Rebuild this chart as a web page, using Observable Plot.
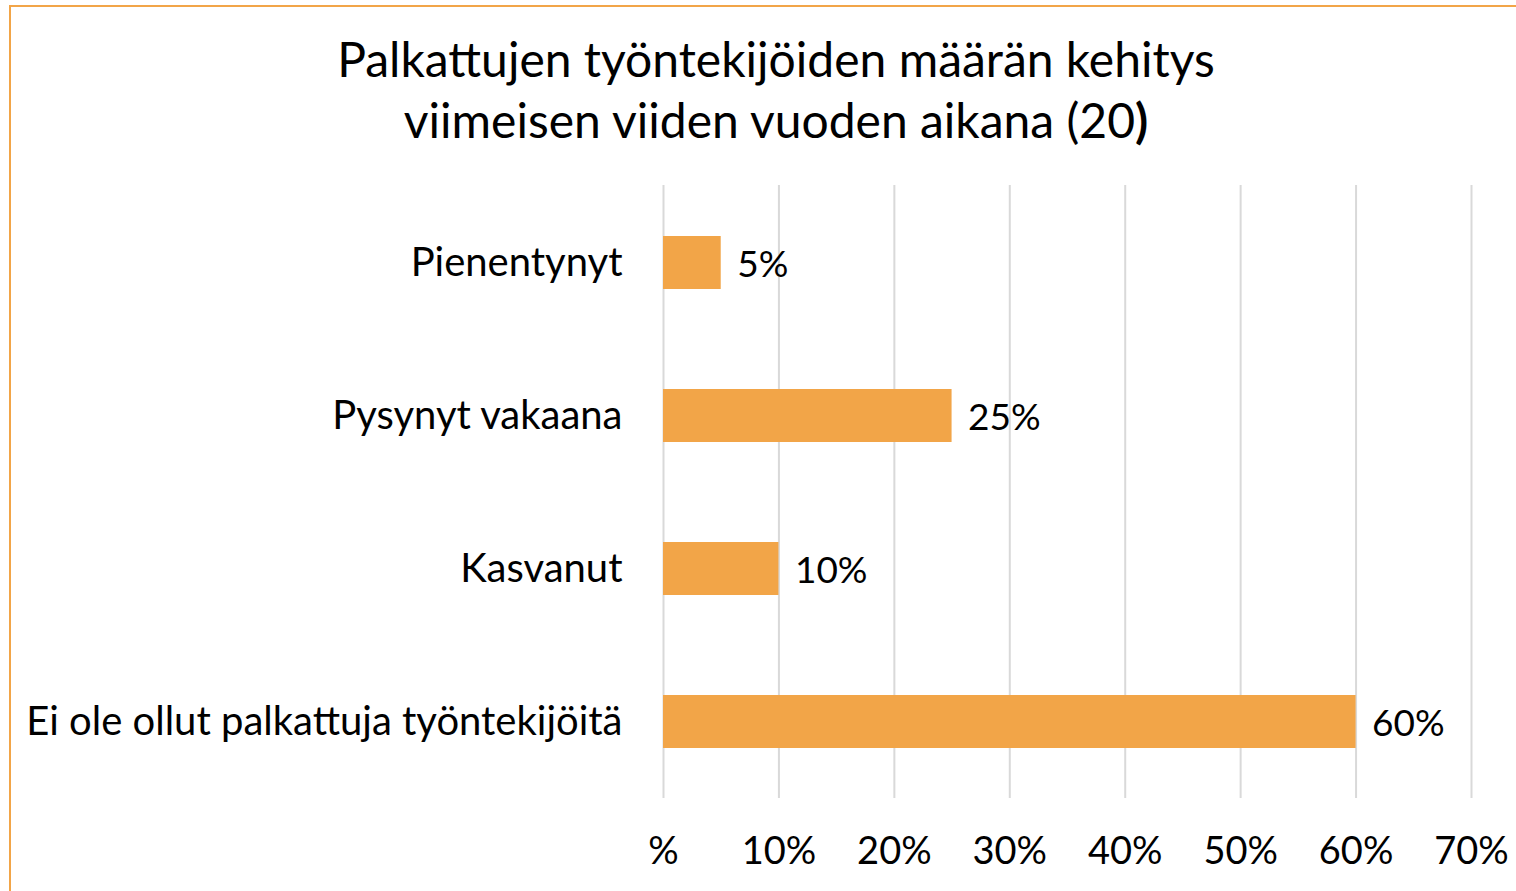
<!DOCTYPE html>
<html><head><meta charset="utf-8">
<script src="https://cdn.jsdelivr.net/npm/d3@7"></script>
<script src="https://cdn.jsdelivr.net/npm/@observablehq/plot@0.6"></script>
<style>
html,body{margin:0;padding:0;background:#fff;width:1516px;height:891px;overflow:hidden;font-family:Lato,"Open Sans",sans-serif;}
#frame{position:absolute;left:9px;top:5px;width:1600px;height:1000px;border-top:2.5px solid #F2A548;border-left:2.5px solid #F2A548;box-sizing:border-box;}
#title{position:absolute;left:276px;width:1000px;top:28px;text-align:center;font-size:48px;line-height:61px;color:#000;}
#chart{position:absolute;left:0;top:0;}
</style></head>
<body>
<div id="frame"></div>
<div id="title">Palkattujen työntekijöiden määrän kehitys<br>viimeisen viiden vuoden aikana (20<b>)</b></div>
<div id="chart"></div>
<script>
const categories = ["Pienentynyt","Pysynyt vakaana","Kasvanut","Ei ole ollut palkattuja työntekijöitä"];
const values = [5, 25, 10, 60];
const xTicks = [0,10,20,30,40,50,60,70];
const xTickLabels = ["%","10%","20%","30%","40%","50%","60%","70%"];

const data = categories.map((c,i)=>({category:c, value:values[i]}));
const plot = Plot.plot({
  width:1516, height:891,
  marginLeft:663, marginRight:45, marginTop:185, marginBottom:93,
  style:{fontFamily:"Lato, 'Open Sans', sans-serif", fontSize:"38px", color:"#000", background:"transparent"},
  x:{domain:[0,70], ticks:xTicks, tickFormat:(d)=>xTickLabels[xTicks.indexOf(d)], label:null},
  y:{domain:categories, paddingInner:0.654, paddingOuter:0.327, label:null},
  marks:[
    Plot.gridX(xTicks,{stroke:"#d9d9d9", strokeOpacity:1, strokeWidth:2}),
    Plot.barX(data,{x:"value", y:"category", fill:"#F2A548"}),
    Plot.text(data,{x:"value", y:"category", text:d=>d.value+"%", textAnchor:"start", dx:16, dy:2, fill:"#000", fontSize:37}),
    Plot.axisX({ticks:xTicks, tickFormat:(d)=>xTickLabels[xTicks.indexOf(d)], tickSize:0, tickPadding:39, fontSize:38, fill:"#000", label:null}),
    Plot.axisY({tickSize:0, tickPadding:41, fontSize:40, fill:"#000", label:null})
  ]
});
document.getElementById("chart").appendChild(plot);
</script>
</body></html>
